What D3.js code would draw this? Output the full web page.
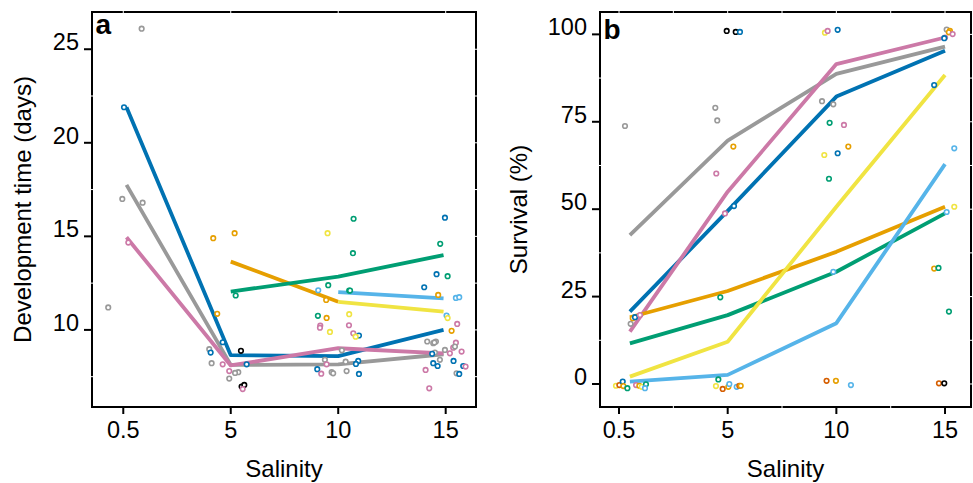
<!DOCTYPE html>
<html>
<head>
<meta charset="utf-8">
<script src="https://cdn.jsdelivr.net/npm/d3@7.9.0/dist/d3.min.js"></script>
<style>
  body { margin: 0; background: #fff; }
  svg { display: block; font-family: "Liberation Sans", Arial, Helvetica, sans-serif; }
</style>
</head>
<body>
<svg id="chart" width="973" height="483"></svg>
<script>
// salinity levels (categorical x axis, positions 0..3)
const salinity = ["0.5", "5", "10", "15"];

const palette = {
  blue: "#0072B2", grey: "#999999", pink: "#CC79A7", orange: "#E69F00",
  green: "#009E73", yellow: "#F0E442", skyblue: "#56B4E9",
  vermilion: "#D55E00", black: "#000000"
};

// ---- panel a: development time (days) ----
const devLineX = [0.03, 1, 2, 2.98];
const devSeries = ["blue", "grey", "pink", "orange", "green", "yellow", "skyblue"];
const devValues = [
  [21.9, 8.65, 8.6, 10.0],
  [17.75, 8.13, 8.16, 8.7],
  [14.95, 8.1, 9.02, 8.75],
  [null, 13.65, 11.5, null],
  [null, 12.05, 12.85, 14.0],
  [null, null, 11.5, 10.98],
  [null, null, 12.02, 11.68]
];
// individual replicates: [x position, days, colour]
const devPoints = [
  [0.171, 26.1, "grey"], [-0.140, 11.2, "grey"], [-0.009, 17.0, "grey"], [0.180, 16.8, "grey"],
  [0.007, 21.9, "blue"], [0.047, 14.67, "pink"],
  [0.837, 14.9, "orange"], [1.036, 15.17, "orange"], [0.874, 10.86, "orange"], [1.046, 11.84, "green"],
  [0.925, 9.34, "blue"], [0.800, 8.97, "grey"], [0.813, 8.79, "blue"], [0.822, 8.22, "grey"],
  [0.925, 8.16, "pink"], [0.986, 7.8, "pink"], [0.986, 7.4, "grey"], [1.070, 7.74, "grey"],
  [1.148, 8.16, "blue"], [1.095, 8.88, "black"], [1.101, 6.97, "black"], [1.126, 7.06, "black"],
  [1.111, 6.84, "pink"], [1.040, 7.7, "grey"],
  [1.901, 15.17, "yellow"], [2.143, 15.94, "green"], [2.137, 14.1, "green"], [1.907, 12.39, "green"],
  [1.814, 12.12, "skyblue"], [2.102, 12.1, "green"], [2.110, 12.1, "green"], [1.888, 11.6, "orange"],
  [1.811, 10.75, "green"], [1.892, 10.64, "orange"], [2.102, 10.84, "yellow"], [1.833, 10.23, "pink"],
  [1.830, 10.12, "pink"], [1.923, 9.89, "yellow"], [2.100, 10.25, "pink"], [2.140, 9.82, "pink"],
  [2.193, 9.7, "blue"], [2.162, 9.64, "yellow"], [2.034, 8.91, "grey"], [1.876, 8.4, "grey"],
  [2.069, 8.3, "grey"], [2.186, 8.34, "blue"], [2.165, 8.18, "blue"], [1.805, 7.9, "blue"],
  [1.842, 7.66, "pink"], [1.939, 7.74, "grey"], [1.953, 7.68, "grey"], [2.078, 7.8, "grey"],
  [2.193, 7.65, "blue"], [1.892, 8.16, "pink"],
  [2.993, 16.0, "blue"], [2.949, 14.6, "green"], [2.915, 12.98, "blue"], [3.018, 12.87, "green"],
  [2.800, 12.28, "blue"], [2.930, 11.87, "orange"], [3.095, 11.71, "skyblue"], [3.126, 11.75, "skyblue"],
  [3.008, 10.77, "skyblue"], [3.018, 10.63, "yellow"], [3.055, 9.95, "orange"], [3.107, 10.32, "pink"],
  [2.828, 9.38, "grey"], [2.884, 9.29, "grey"], [2.909, 9.38, "grey"], [2.895, 9.33, "grey"],
  [3.095, 9.32, "pink"], [3.070, 9.05, "pink"], [3.086, 9.11, "grey"], [3.148, 8.84, "pink"],
  [2.993, 8.93, "grey"], [2.900, 8.79, "grey"], [2.874, 8.72, "blue"], [3.039, 8.75, "pink"],
  [2.946, 8.4, "grey"], [3.073, 8.34, "blue"], [2.884, 8.22, "blue"], [2.925, 8.07, "blue"],
  [2.813, 7.86, "pink"], [3.163, 8.07, "blue"], [3.185, 8.04, "pink"], [3.101, 7.68, "grey"],
  [3.126, 7.65, "blue"], [2.847, 6.88, "pink"]
];

// ---- panel b: survival (%) ----
const survLineX = [0.1, 1, 2, 3];
const survSeries = ["grey", "blue", "pink", "orange", "green", "yellow", "skyblue"];
const survValues = [
  [42.6, 69.6, 88.7, 96.5],
  [20.7, 49.5, 82.2, 95.3],
  [15.0, 55.0, 91.5, 99.1],
  [19.1, 26.6, 37.8, 50.7],
  [11.6, 19.7, 32.1, 48.8],
  [2.1, 12.1, 50.7, 88.4],
  [0.7, 2.6, 17.4, 62.9]
];
const survPoints = [
  [0.055, 73.8, "grey"], [0.107, 17.2, "grey"], [0.126, 18.8, "orange"], [0.147, 19.1, "blue"],
  [0.193, 19.7, "pink"],
  [-0.028, -0.5, "yellow"], [0.003, -0.3, "vermilion"], [0.034, 0.7, "blue"], [0.040, -0.6, "orange"],
  [0.077, -1.2, "green"], [0.157, -0.3, "pink"], [0.187, -0.5, "orange"], [0.209, -0.8, "yellow"],
  [0.248, -0.1, "green"], [0.239, -1.2, "skyblue"],
  [0.991, 101.0, "black"], [1.074, 100.7, "black"], [1.113, 100.7, "blue"], [0.886, 79.0, "grey"],
  [0.904, 75.4, "grey"], [1.052, 67.9, "orange"], [0.895, 60.2, "pink"], [1.058, 50.9, "blue"],
  [0.975, 48.8, "pink"], [0.932, 24.8, "green"],
  [0.914, 1.3, "green"], [0.892, -0.6, "yellow"], [0.954, -1.4, "vermilion"], [1.006, -0.8, "orange"],
  [1.015, 0.0, "skyblue"], [1.083, -0.8, "skyblue"], [1.107, -0.5, "vermilion"], [1.120, -0.5, "orange"],
  [1.895, 100.5, "yellow"], [1.920, 101.0, "pink"], [2.012, 101.3, "blue"], [1.868, 80.9, "grey"],
  [1.972, 80.0, "grey"], [1.938, 74.7, "green"], [2.070, 74.1, "pink"], [2.110, 67.9, "orange"],
  [1.889, 65.5, "yellow"], [2.012, 66.0, "blue"], [1.932, 58.7, "green"], [1.972, 32.1, "skyblue"],
  [1.910, 0.9, "vermilion"], [1.996, 0.9, "orange"], [2.134, -0.3, "skyblue"],
  [3.015, 101.4, "grey"], [3.045, 101.0, "orange"], [3.035, 100.6, "orange"], [3.070, 100.1, "pink"],
  [3.000, 99.1, "pink"], [2.993, 98.9, "blue"], [2.900, 85.5, "blue"], [3.085, 67.4, "skyblue"],
  [3.085, 50.7, "yellow"], [3.015, 49.2, "skyblue"], [2.900, 33.0, "orange"], [2.940, 33.2, "green"],
  [3.036, 20.7, "green"], [2.944, 0.2, "vermilion"], [2.993, 0.2, "black"]
];

const devTicks = [10, 15, 20, 25];
const devMinor = [7.5, 12.5, 17.5, 22.5];
const survTicks = [0, 25, 50, 75, 100];
const survMinor = [12.5, 37.5, 62.5, 87.5];

const svg = d3.select("#chart");

function drawPanel(p) {
  const x = d3.scaleLinear().domain(p.xDomain).range([p.left, p.right]);
  const y = d3.scaleLinear().domain(p.yDomain).range([p.bottom, p.top]);
  const g = svg.append("g");

  // lines
  const line = d3.line()
    .defined(d => d[1] != null)
    .x(d => x(d[0]))
    .y(d => y(d[1]));

  p.series.forEach((s, i) => {
    const pts = p.values[i].map((v, j) => [p.lineX[j], v]);
    g.append("path")
      .attr("d", line(pts))
      .attr("fill", "none")
      .attr("stroke", palette[s])
      .attr("stroke-width", 3.8)
      .attr("stroke-linejoin", "round");
  });

  // replicate points
  g.selectAll("circle")
    .data(p.points)
    .join("circle")
    .attr("cx", d => x(d[0]))
    .attr("cy", d => y(d[1]))
    .attr("r", 2.3)
    .attr("fill", "#fff")
    .attr("stroke", d => palette[d[2]])
    .attr("stroke-width", 1.6);

  // frame
  g.append("rect")
    .attr("x", p.left).attr("y", p.top)
    .attr("width", p.right - p.left).attr("height", p.bottom - p.top)
    .attr("fill", "none").attr("stroke", "#000").attr("stroke-width", 2);

  // white notches on the frame
  const notch = g.append("g").attr("stroke", "#fff").attr("stroke-width", 1);
  const xCats = d3.range(salinity.length);
  const xTop = xCats.concat(p.xMinor);
  xTop.forEach(v => {
    notch.append("line").attr("x1", x(v)).attr("x2", x(v)).attr("y1", p.top - 1.5).attr("y2", p.top + 1.5);
  });
  p.xMinor.forEach(v => {
    notch.append("line").attr("x1", x(v)).attr("x2", x(v)).attr("y1", p.bottom - 1.5).attr("y2", p.bottom + 1.5);
  });
  p.yTicks.concat(p.yMinor).forEach(v => {
    notch.append("line").attr("x1", p.right - 1.5).attr("x2", p.right + 1.5).attr("y1", y(v)).attr("y2", y(v));
  });
  p.yMinor.forEach(v => {
    notch.append("line").attr("x1", p.left - 1.5).attr("x2", p.left + 1.5).attr("y1", y(v)).attr("y2", y(v));
  });

  // x axis ticks + labels
  xCats.forEach(i => {
    g.append("line")
      .attr("x1", x(i)).attr("x2", x(i))
      .attr("y1", p.bottom).attr("y2", p.bottom + 7)
      .attr("stroke", "#000").attr("stroke-width", 2);
    g.append("text")
      .attr("x", x(i)).attr("y", 438)
      .attr("text-anchor", "middle")
      .attr("font-size", 23.5)
      .text(salinity[i]);
  });

  // y axis ticks + labels (label baseline sits on the tick)
  p.yTicks.forEach(v => {
    g.append("line")
      .attr("x1", p.left - 8).attr("x2", p.left)
      .attr("y1", y(v)).attr("y2", y(v))
      .attr("stroke", "#000").attr("stroke-width", 2);
    g.append("text")
      .attr("x", p.left - 13).attr("y", y(v) + 1)
      .attr("text-anchor", "end")
      .attr("font-size", 23.5)
      .text(v);
  });

  // titles
  g.append("text")
    .attr("x", (p.left + p.right) / 2).attr("y", 477)
    .attr("text-anchor", "middle")
    .attr("font-size", 24)
    .text("Salinity");

  g.append("text")
    .attr("transform", `translate(${p.titleX},${(p.top + p.bottom) / 2}) rotate(-90)`)
    .attr("text-anchor", "middle")
    .attr("font-size", 24)
    .text(p.yTitle);

  g.append("text")
    .attr("x", p.left + 3.5).attr("y", p.letterY)
    .attr("font-size", 28)
    .attr("font-weight", "bold")
    .text(p.letter);
}

drawPanel({
  left: 92, right: 476, top: 12, bottom: 407,
  xDomain: [-0.291, 3.282], yDomain: [5.88, 26.99],
  xMinor: [],
  yTicks: devTicks, yMinor: devMinor,
  series: devSeries, values: devValues, lineX: devLineX, points: devPoints,
  yTitle: "Development time (days)", titleX: 31,
  letter: "a", letterY: 33.5
});

drawPanel({
  left: 600, right: 971, top: 12, bottom: 407,
  xDomain: [-0.175, 3.239], yDomain: [-6.58, 106.4],
  xMinor: [0.5, 1.5, 2.5],
  yTicks: survTicks, yMinor: survMinor,
  series: survSeries, values: survValues, lineX: survLineX, points: survPoints,
  yTitle: "Survival (%)", titleX: 526.5,
  letter: "b", letterY: 38.5
});
</script>
</body>
</html>
